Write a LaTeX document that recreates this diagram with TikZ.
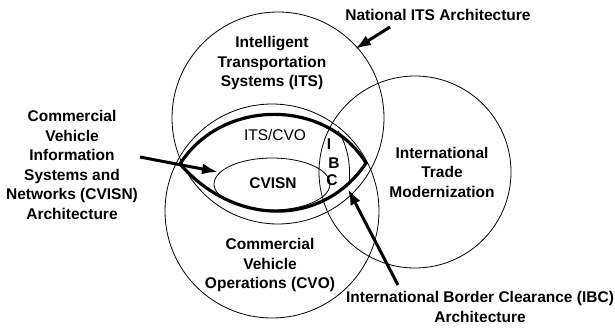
\documentclass[tikz,border=0pt]{standalone}
\usepackage{fontspec}
\setmainfont{Liberation Sans}
\usetikzlibrary{positioning}
\usetikzlibrary{arrows.meta}
\begin{document}
\begin{tikzpicture}[x=1pt,y=-1pt,>={Latex[length=16pt,width=11pt]},
  lbl/.style={font=\bfseries\fontsize{15.5}{19.5}\selectfont,align=center,inner sep=0pt},
  thinlbl/.style={font=\fontsize{15.5}{19.5}\selectfont,inner sep=0pt},
  ring/.style={line width=0.8pt},
  fat/.style={line width=3.2pt},
  pointer/.style={->,line width=3pt}]
\useasboundingbox (0,0) rectangle (615,327);

% the three big circles
\draw [ring] (278,118) circle (106pt);
\draw [ring] (272,211) circle (107pt);
\draw [ring] (415,172) circle (96pt);

% ITS/CVO lens and CVISN
\draw [fat] (180,164) .. controls (222,98) and (326,98) .. (366,163)
  .. controls (324,226) and (236,228) .. cycle;
\draw [ring] (272,184) ellipse (58pt and 26pt);
\draw [ring] (338,131) .. controls (348,146) and (351,166) .. (349,185);

% labels
\node [lbl] (natl) at (438,15) {National ITS Architecture};
\node [lbl] (its) at (272,63) {Intelligent\\Transportation\\Systems (ITS)};
\node [thinlbl] (itscvo) at (275,135) {ITS/CVO};
\node [lbl] (cvisn) at (273,183) {CVISN};
\node [lbl] (i) at (329,144) {I};
\node [lbl] (b) at (334,163) {B};
\node [lbl] (c) at (332,180) {C};
\node [lbl] (trade) at (442,172) {International\\Trade\\Modernization};
\node [lbl] (cvo) at (270,265) {Commercial\\Vehicle\\Operations (CVO)};
\node [lbl] (cvisnarch) at (72,165) {Commercial\\Vehicle\\Information\\Systems and\\Networks (CVISN)\\Architecture};
\node [lbl] (ibc) at (480,307) {International Border Clearance (IBC)\\Architecture};

% pointers
\coordinate (natltail) at (390,27);
\coordinate (natlhead) at (355,49);
\coordinate (cvisntail) at (140,157);
\coordinate (cvisnhead) at (218,172);
\coordinate (ibctail) at (398,285);
\coordinate (ibchead) at (348,189);
\draw [pointer] (natltail) -- (natlhead);
\draw [pointer] (cvisntail) -- (cvisnhead);
\draw [pointer] (ibctail) -- (ibchead);

\end{tikzpicture}
\end{document}
